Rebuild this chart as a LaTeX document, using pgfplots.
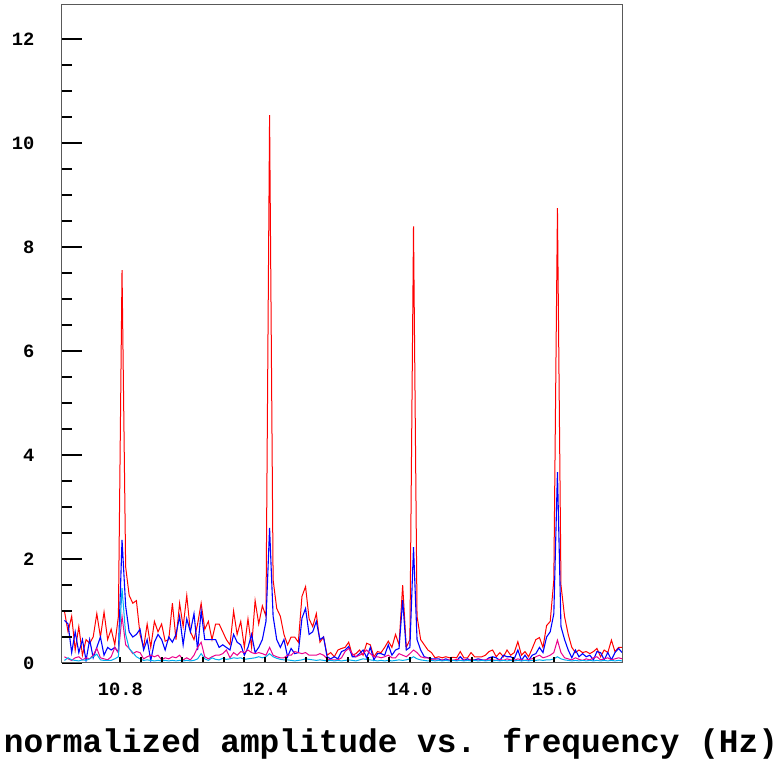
\documentclass[border=0pt]{standalone}
\usepackage{fontspec}
\setmainfont{Liberation Mono}
\usepackage{pgfplots}
\usepackage{pgfplotstable}
\pgfplotsset{compat=1.18}
\pgfplotstableread{
x r b m c
10.180 1.00 0.82 0.12 0.05
10.220 0.60 0.75 0.08 0.10
10.260 0.90 0.20 0.05 0.06
10.299 0.25 0.60 0.10 0.05
10.339 0.70 0.20 0.12 0.04
10.379 0.15 0.45 0.06 0.06
10.419 0.45 0.05 0.10 0.05
10.459 0.38 0.45 0.08 0.08
10.498 0.50 0.10 0.15 0.12
10.538 0.95 0.30 0.28 0.17
10.578 0.50 0.50 0.10 0.06
10.618 0.98 0.15 0.08 0.05
10.658 0.45 0.30 0.06 0.05
10.697 0.65 0.25 0.12 0.05
10.737 0.35 0.30 0.30 0.08
10.777 0.90 0.20 0.20 0.12
10.817 7.56 2.37 0.90 1.44
10.857 1.85 1.10 0.35 0.55
10.896 1.30 0.60 0.28 0.28
10.936 1.15 0.50 0.18 0.20
10.976 1.20 0.55 0.22 0.12
11.016 0.55 0.65 0.20 0.08
11.056 0.30 0.25 0.08 0.05
11.095 0.75 0.45 0.12 0.06
11.135 0.30 0.05 0.15 0.05
11.175 0.80 0.40 0.12 0.04
11.215 0.60 0.55 0.15 0.05
11.255 0.75 0.45 0.06 0.04
11.294 0.42 0.25 0.10 0.05
11.334 0.45 0.50 0.08 0.04
11.374 1.15 0.40 0.12 0.05
11.414 0.45 0.55 0.10 0.04
11.454 1.15 0.90 0.15 0.05
11.493 0.70 0.35 0.06 0.04
11.533 1.30 0.85 0.10 0.05
11.573 0.60 0.60 0.06 0.04
11.613 0.45 0.95 0.15 0.05
11.653 0.75 0.25 0.30 0.08
11.692 1.15 1.00 0.40 0.18
11.732 0.65 0.45 0.12 0.08
11.772 0.80 0.45 0.08 0.05
11.812 0.45 0.45 0.12 0.10
11.852 0.75 0.45 0.15 0.07
11.891 0.75 0.30 0.15 0.06
11.931 0.60 0.35 0.18 0.09
11.971 0.45 0.30 0.25 0.07
12.011 0.35 0.25 0.10 0.08
12.051 1.00 0.55 0.20 0.10
12.090 0.55 0.40 0.15 0.09
12.130 0.80 0.35 0.22 0.10
12.170 0.30 0.15 0.20 0.07
12.210 0.85 0.30 0.25 0.08
12.250 0.30 0.55 0.20 0.09
12.289 1.20 0.20 0.18 0.10
12.329 0.75 0.30 0.20 0.12
12.369 1.10 0.45 0.18 0.10
12.409 0.90 0.80 0.15 0.12
12.449 10.54 2.60 0.30 0.18
12.488 1.60 0.90 0.15 0.12
12.528 1.05 0.45 0.12 0.09
12.568 0.90 0.30 0.10 0.07
12.608 0.55 0.45 0.10 0.06
12.648 0.35 0.12 0.15 0.06
12.687 0.50 0.28 0.15 0.05
12.727 0.50 0.18 0.22 0.04
12.767 0.40 0.20 0.20 0.05
12.807 1.28 0.86 0.18 0.06
12.847 1.47 1.05 0.20 0.08
12.886 0.85 0.55 0.15 0.07
12.926 0.70 0.60 0.15 0.06
12.966 0.95 0.80 0.15 0.05
13.006 0.40 0.45 0.18 0.06
13.046 0.50 0.50 0.15 0.05
13.085 0.15 0.12 0.08 0.04
13.125 0.20 0.08 0.06 0.05
13.165 0.12 0.12 0.06 0.04
13.205 0.25 0.08 0.06 0.05
13.245 0.28 0.22 0.10 0.04
13.284 0.30 0.25 0.22 0.05
13.324 0.40 0.32 0.28 0.06
13.364 0.15 0.12 0.18 0.05
13.404 0.18 0.12 0.12 0.04
13.444 0.25 0.18 0.15 0.06
13.483 0.15 0.25 0.18 0.08
13.523 0.38 0.10 0.25 0.07
13.563 0.35 0.30 0.18 0.06
13.603 0.12 0.06 0.12 0.05
13.643 0.22 0.18 0.12 0.04
13.682 0.20 0.18 0.10 0.05
13.722 0.30 0.15 0.12 0.04
13.762 0.42 0.35 0.15 0.05
13.802 0.30 0.15 0.10 0.04
13.842 0.55 0.25 0.10 0.05
13.881 0.35 0.28 0.18 0.06
13.921 1.50 1.21 0.15 0.05
13.961 0.30 0.25 0.12 0.06
14.001 0.45 0.30 0.18 0.08
14.041 8.40 2.23 0.25 0.12
14.080 0.90 0.45 0.20 0.08
14.120 0.45 0.25 0.12 0.06
14.160 0.35 0.12 0.10 0.05
14.200 0.25 0.10 0.10 0.04
14.240 0.20 0.08 0.06 0.05
14.279 0.10 0.08 0.06 0.04
14.319 0.12 0.08 0.05 0.05
14.359 0.10 0.05 0.06 0.04
14.399 0.12 0.08 0.05 0.05
14.439 0.10 0.05 0.06 0.04
14.478 0.11 0.05 0.05 0.05
14.518 0.10 0.05 0.07 0.04
14.558 0.22 0.12 0.05 0.05
14.598 0.10 0.05 0.06 0.04
14.638 0.10 0.08 0.05 0.05
14.677 0.20 0.05 0.07 0.04
14.717 0.12 0.06 0.05 0.05
14.757 0.12 0.08 0.06 0.04
14.797 0.12 0.06 0.05 0.05
14.837 0.15 0.05 0.06 0.04
14.876 0.22 0.10 0.08 0.05
14.916 0.25 0.12 0.06 0.04
14.956 0.12 0.10 0.05 0.05
14.996 0.20 0.05 0.07 0.04
15.036 0.12 0.15 0.05 0.05
15.075 0.25 0.12 0.08 0.04
15.115 0.15 0.12 0.06 0.05
15.155 0.20 0.08 0.05 0.04
15.195 0.41 0.25 0.08 0.05
15.235 0.15 0.05 0.06 0.04
15.274 0.22 0.15 0.05 0.05
15.314 0.12 0.05 0.07 0.04
15.354 0.28 0.15 0.08 0.05
15.394 0.45 0.18 0.12 0.05
15.434 0.49 0.30 0.15 0.06
15.473 0.30 0.20 0.10 0.05
15.513 0.72 0.50 0.12 0.06
15.553 0.80 0.60 0.15 0.06
15.593 1.60 0.95 0.20 0.08
15.633 8.75 3.67 0.44 0.12
15.672 1.50 0.70 0.20 0.08
15.712 0.89 0.45 0.10 0.06
15.752 0.55 0.25 0.08 0.05
15.792 0.30 0.10 0.06 0.04
15.832 0.20 0.25 0.10 0.05
15.871 0.25 0.12 0.07 0.04
15.911 0.20 0.18 0.05 0.05
15.951 0.22 0.12 0.08 0.04
15.991 0.18 0.15 0.06 0.05
16.031 0.22 0.06 0.10 0.04
16.070 0.28 0.22 0.12 0.05
16.110 0.12 0.20 0.06 0.04
16.150 0.25 0.06 0.08 0.05
16.190 0.20 0.20 0.10 0.04
16.230 0.44 0.06 0.06 0.05
16.269 0.22 0.20 0.08 0.04
16.309 0.30 0.28 0.10 0.05
16.349 0.30 0.20 0.08 0.04
}\spec
\begin{document}
\begin{tikzpicture}
\useasboundingbox (0,0) rectangle (782pt,759pt);
\begin{axis}[
  at={(62pt,96pt)}, anchor=south west,
  scale only axis, width=560pt, height=658pt,
  xmin=10.153, xmax=16.347, ymin=0, ymax=12.66,
  xtick={10.8,12.4,14.0,15.6},
  xticklabels={10.8,12.4,14.0,15.6},
  minor x tick num=6,
  ytick={0,2,4,6,8,10,12},
  minor y tick num=3,
  tick align=inside,
  xtick pos=bottom, ytick pos=left,
  axis on top=true,
  axis line style={draw=black!65, line width=1pt},
  major tick length=20pt, minor tick length=10pt,
  ytick style={line width=2pt, black},
  xtick style={line width=2pt, black, /pgfplots/major tick length=6pt, /pgfplots/minor tick length=6pt},
  tick label style={font=\fontsize{18.75}{20}\selectfont\bfseries},
  /pgf/number format/assume math mode=true,
  yticklabel style={xshift=-24pt},
  xticklabel style={yshift=-16pt},
  clip=true,
]
\addplot[red, line width=1pt] table[x=x,y=r] {\spec};
\addplot[blue, line width=1.1pt] table[x=x,y=b] {\spec};
\addplot[magenta, line width=1pt] table[x=x,y=m] {\spec};
\addplot[cyan, line width=1pt] table[x=x,y=c] {\spec};
\end{axis}
\node[anchor=base, font=\fontsize{32.8}{36}\selectfont\bfseries, inner sep=0pt] at (391pt,6pt) {normalized amplitude vs. frequency (Hz)};
\end{tikzpicture}
\end{document}
